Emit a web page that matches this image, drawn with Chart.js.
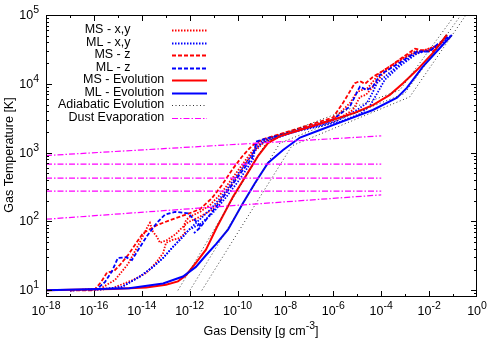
<!DOCTYPE html>
<html lang="en">
<head>
<meta charset="utf-8">
<title>Gas Temperature vs Gas Density</title>
<script src="https://cdn.jsdelivr.net/npm/chart.js@4.4.1/dist/chart.umd.min.js"></script>
<style>
    html, body { margin: 0; padding: 0; background: #ffffff; }
    canvas { display: block; }
</style>
</head>
<body>
<canvas id="grafico" width="500" height="350"></canvas>
<script>
// Valores (log10 da densidade em g cm^-3 e log10 da temperatura em K)

// MS - Evolution
const msEvolRho = [-18, -15.20, -13.82, -12.99, -12.49, -12.15, -11.74, -11.32, -10.86, -10.19, -9.57, -9.15, -8.73, -8.23, -7.39, -6.02, -5.10, -4.35, -3.64, -3.09, -2.51, -1.84, -1.26];
const msEvolT = [1.00, 1.02, 1.04, 1.08, 1.13, 1.22, 1.40, 1.59, 1.92, 2.36, 2.71, 2.95, 3.14, 3.24, 3.33, 3.48, 3.58, 3.69, 3.84, 4.01, 4.20, 4.45, 4.71];

// ML - Evolution
const mlEvolRho = [-18, -14.53, -13.11, -12.28, -11.74, -11.32, -10.90, -10.40, -9.82, -9.27, -8.73, -8.10, -7.39, -6.56, -6.02, -4.35, -3.34, -2.93, -2.26, -1.55, -1.05];
const mlEvolT = [1.00, 1.03, 1.10, 1.20, 1.34, 1.51, 1.67, 1.88, 2.24, 2.56, 2.85, 3.04, 3.22, 3.33, 3.40, 3.62, 3.80, 3.94, 4.25, 4.52, 4.71];

// MS - z
const msZRho = [-17.00, -16.00, -15.70, -15.45, -15.16, -14.91, -14.58, -13.95, -13.41, -12.82, -12.15, -11.57, -11.07, -10.65, -10.23, -9.82, -9.40, -8.98, -8.23, -7.39, -6.02, -5.60, -5.10, -4.89, -4.68, -4.35, -3.64, -3.09, -2.59, -2.18, -1.84, -1.55, -1.26];
const msZT = [1.00, 1.00, 1.12, 1.26, 1.28, 1.37, 1.51, 1.83, 1.94, 2.02, 2.10, 2.18, 2.34, 2.53, 2.75, 2.94, 3.10, 3.19, 3.27, 3.36, 3.51, 3.72, 4.01, 4.04, 4.00, 4.10, 4.25, 4.39, 4.51, 4.48, 4.47, 4.57, 4.71];

// ML - z
const mlZRho = [-17.00, -15.91, -15.54, -15.24, -15.00, -14.66, -14.41, -14.20, -13.78, -13.37, -13.03, -12.61, -12.07, -11.70, -11.53, -11.82, -11.57, -11.15, -10.73, -10.23, -9.77, -9.40, -9.27, -9.23, -8.86, -7.81, -6.02, -5.31, -4.89, -4.60, -4.35, -4.05, -3.22, -2.51, -1.97, -1.67, -1.13];
const mlZT = [1.00, 1.01, 1.12, 1.28, 1.47, 1.48, 1.44, 1.56, 1.79, 1.98, 2.10, 2.14, 2.12, 1.99, 1.92, 1.83, 1.91, 2.10, 2.29, 2.53, 2.75, 2.92, 3.07, 3.16, 3.20, 3.29, 3.48, 3.67, 3.96, 3.91, 3.96, 4.13, 4.31, 4.47, 4.47, 4.57, 4.70];

// MS - x,y (dois perfis)
const msXYaRho = [-17.00, -15.75, -15.24, -14.37, -13.82, -13.41, -13.11, -12.99, -12.74, -12.41, -12.20, -12.24, -12.15, -11.99, -11.57, -11.15, -10.73, -10.32, -9.90, -9.48, -9.15, -8.65, -7.39, -6.02, -5.31, -5.01, -4.81, -4.56, -4.05, -3.22, -2.59, -2.18, -1.55, -1.26];
const msXYaT = [1.00, 1.02, 1.03, 1.15, 1.25, 1.40, 1.54, 1.69, 1.73, 1.76, 1.83, 1.94, 2.02, 2.07, 2.14, 2.24, 2.39, 2.58, 2.78, 2.98, 3.11, 3.22, 3.35, 3.48, 3.72, 3.88, 3.91, 3.94, 4.16, 4.35, 4.47, 4.49, 4.57, 4.71];
const msXYbRho = [-17.00, -15.75, -15.12, -14.58, -14.08, -13.78, -13.66, -13.53, -13.37, -13.24, -12.95, -12.57, -12.41, -12.07, -11.57, -11.07, -10.65, -10.11, -9.65, -9.23, -8.86, -7.81, -5.85, -5.18, -4.89, -4.64, -4.39, -3.97, -3.43, -2.80, -2.18, -1.55, -1.26];
const msXYbT = [1.00, 1.02, 1.15, 1.38, 1.70, 1.91, 1.98, 1.85, 1.78, 1.69, 1.73, 1.82, 1.88, 1.99, 2.07, 2.17, 2.34, 2.60, 2.85, 3.04, 3.16, 3.30, 3.48, 3.62, 3.81, 3.84, 3.94, 4.13, 4.29, 4.42, 4.49, 4.57, 4.71];

// ML - x,y (dois perfis)
const mlXYaRho = [-17.00, -15.75, -14.83, -14.12, -13.53, -13.11, -12.70, -12.28, -12.03, -11.61, -11.15, -10.65, -10.11, -9.65, -9.27, -8.98, -8.23, -7.39, -5.85, -5.01, -4.60, -4.35, -4.18, -3.76, -3.09, -2.51, -1.97, -1.55, -1.13];
const mlXYaT = [1.00, 1.01, 1.05, 1.19, 1.34, 1.47, 1.63, 1.78, 1.88, 2.02, 2.17, 2.37, 2.63, 2.85, 3.04, 3.14, 3.23, 3.33, 3.46, 3.62, 3.72, 3.88, 4.01, 4.13, 4.32, 4.45, 4.49, 4.57, 4.68];
const mlXYbRho = [-17.00, -15.75, -14.83, -14.12, -13.53, -13.11, -12.70, -12.28, -12.03, -11.57, -11.07, -10.53, -9.98, -9.57, -9.36, -9.27, -9.19, -8.73, -7.39, -5.72, -4.89, -4.47, -4.14, -3.85, -3.22, -2.51, -1.97, -1.55, -1.13];
const mlXYbT = [1.00, 1.01, 1.05, 1.19, 1.34, 1.47, 1.63, 1.78, 1.88, 1.96, 2.11, 2.33, 2.58, 2.79, 2.90, 3.04, 3.14, 3.20, 3.32, 3.45, 3.56, 3.68, 3.88, 4.06, 4.26, 4.44, 4.49, 4.57, 4.68];

// Adiabatic Evolution (três curvas)
const adiab1Rho = [-12.49, -8.73, -3.22, -0.92];
const adiab1T = [1.00, 3.19, 3.91, 5.00];
const adiab2Rho = [-11.99, -8.23, -3.02, -0.67];
const adiab2T = [1.00, 3.14, 3.86, 5.00];
const adiab3Rho = [-11.49, -7.73, -2.81, -0.46];
const adiab3T = [1.00, 3.10, 3.81, 5.00];

// Dust Evaporation (cinco linhas entre 1e-18 e 1e-4)
const poeiraRho = [-18, -4];
const poeira1T = [2.958, 3.244];
const poeira2T = [2.833, 2.833];
const poeira3T = [2.629, 2.629];
const poeira4T = [2.440, 2.440];
const poeira5T = [2.033, 2.387];

// Eixos e textos
const xTickExp = [-18, -16, -14, -12, -10, -8, -6, -4, -2, 0];
const yTickExp = [1, 2, 3, 4, 5];
const legendaTextos = ["MS - x,y", "ML - x,y", "MS - z", "ML - z", "MS - Evolution", "ML - Evolution", "Adiabatic Evolution", "Dust Evaporation"];

const FONTE = '"Liberation Sans", Arial, Helvetica, sans-serif';
const TAM = 12.5;     // fonte normal
const TAM_EXP = 10.5; // fonte do expoente

// Estilo de cada entrada da legenda
const estilos = [
    { cor: "#ff0000", largura: 1.8, traco: [1.5, 1.5] },
    { cor: "#0000ff", largura: 1.8, traco: [1.5, 1.5] },
    { cor: "#ff0000", largura: 1.8, traco: [4, 2] },
    { cor: "#0000ff", largura: 1.8, traco: [4, 2] },
    { cor: "#ff0000", largura: 2, traco: [] },
    { cor: "#0000ff", largura: 2, traco: [] },
    { cor: "#333333", largura: 1, traco: [1, 2.5] },
    { cor: "#ff00ff", largura: 1.2, traco: [6, 2, 1.5, 2] }
];

function pontos(rho, temp) {
    return rho.map((r, i) => ({ x: Math.pow(10, r), y: Math.pow(10, temp[i]) }));
}

function serie(estilo, rho, temp) {
    const e = estilos[estilo];
    return {
        label: legendaTextos[estilo],
        data: pontos(rho, temp),
        borderColor: e.cor,
        borderWidth: e.largura,
        borderDash: e.traco,
        showLine: true,
        pointRadius: 0,
        tension: 0,
        fill: false
    };
}

const series = [
    serie(0, msXYaRho, msXYaT),
    serie(0, msXYbRho, msXYbT),
    serie(1, mlXYaRho, mlXYaT),
    serie(1, mlXYbRho, mlXYbT),
    serie(2, msZRho, msZT),
    serie(3, mlZRho, mlZT),
    serie(4, msEvolRho, msEvolT),
    serie(5, mlEvolRho, mlEvolT),
    serie(6, adiab1Rho, adiab1T),
    serie(6, adiab2Rho, adiab2T),
    serie(6, adiab3Rho, adiab3T),
    serie(7, poeiraRho, poeira1T),
    serie(7, poeiraRho, poeira2T),
    serie(7, poeiraRho, poeira3T),
    serie(7, poeiraRho, poeira4T),
    serie(7, poeiraRho, poeira5T)
];
// como no gnuplot, a última série fica por cima
series.forEach((s, i) => { s.order = series.length - i; });

// Escreve "10" com expoente sobrescrito
function potencia(ctx, x, y, exp, alinhar) {
    ctx.font = TAM + "px " + FONTE;
    const wb = ctx.measureText("10").width;
    ctx.font = TAM_EXP + "px " + FONTE;
    const we = ctx.measureText(exp).width;
    const x0 = alinhar === "right" ? x - wb - we : x - (wb + we) / 2;
    ctx.textAlign = "left";
    ctx.textBaseline = "middle";
    ctx.font = TAM + "px " + FONTE;
    ctx.fillText("10", x0, y);
    ctx.font = TAM_EXP + "px " + FONTE;
    ctx.fillText(exp, x0 + wb, y - 5.5);
}

const eixosPlugin = {
    id: "eixos",
    afterDraw(chart) {
        const ctx = chart.ctx;
        const a = chart.chartArea;
        const sx = chart.scales.x;
        const sy = chart.scales.y;
        ctx.save();
        ctx.strokeStyle = "#000";
        ctx.fillStyle = "#000";
        ctx.lineWidth = 1;
        ctx.setLineDash([]);

        // moldura
        ctx.strokeRect(a.left + 0.5, a.top + 0.5, a.right - a.left - 1, a.bottom - a.top - 1);

        // marcas do eixo x (uma por década, maiores nas rotuladas)
        ctx.beginPath();
        for (let e = -17; e <= -1; e++) {
            const px = Math.round(sx.getPixelForValue(Math.pow(10, e))) + 0.5;
            const tam = e % 2 === 0 ? 6 : 3;
            ctx.moveTo(px, a.bottom); ctx.lineTo(px, a.bottom - tam);
            ctx.moveTo(px, a.top); ctx.lineTo(px, a.top + tam);
        }
        // marcas do eixo y
        for (let e = 0; e <= 4; e++) {
            for (let m = 1; m <= 9; m++) {
                const v = m * Math.pow(10, e);
                if (v <= sy.min || v >= sy.max) continue;
                const py = Math.round(sy.getPixelForValue(v)) + 0.5;
                const tam = m === 1 ? 6 : 3;
                ctx.moveTo(a.left, py); ctx.lineTo(a.left + tam, py);
                ctx.moveTo(a.right, py); ctx.lineTo(a.right - tam, py);
            }
        }
        ctx.stroke();

        // rótulos
        xTickExp.forEach((e) => {
            potencia(ctx, sx.getPixelForValue(Math.pow(10, e)), a.bottom + 15, String(e), "center");
        });
        yTickExp.forEach((e) => {
            potencia(ctx, a.left - 7, sy.getPixelForValue(Math.pow(10, e)) + 0.5, String(e), "right");
        });

        // título do eixo y
        ctx.save();
        ctx.translate(10, 155);
        ctx.rotate(-Math.PI / 2);
        ctx.font = TAM + "px " + FONTE;
        ctx.textAlign = "center";
        ctx.textBaseline = "middle";
        ctx.fillText("Gas Temperature [K]", 0, 0);
        ctx.restore();

        // título do eixo x com expoente
        ctx.font = TAM + "px " + FONTE;
        const p1 = "Gas Density [g cm";
        const w1 = ctx.measureText(p1).width;
        const w3 = ctx.measureText("]").width;
        ctx.font = TAM_EXP + "px " + FONTE;
        const w2 = ctx.measureText("-3").width;
        const x0 = 261 - (w1 + w2 + w3) / 2;
        const yt = 332;
        ctx.textAlign = "left";
        ctx.textBaseline = "middle";
        ctx.font = TAM + "px " + FONTE;
        ctx.fillText(p1, x0, yt);
        ctx.font = TAM_EXP + "px " + FONTE;
        ctx.fillText("-3", x0 + w1, yt - 5.5);
        ctx.font = TAM + "px " + FONTE;
        ctx.fillText("]", x0 + w1 + w2, yt);

        // legenda (as quatro primeiras entradas terminam mais à esquerda, como no original)
        legendaTextos.forEach((txt, i) => {
            const yl = 30 + i * 12.5;
            ctx.font = TAM + "px " + FONTE;
            ctx.textAlign = "right";
            ctx.fillStyle = "#000";
            ctx.fillText(txt, i < 4 ? 130.5 : 164.3, yl);
            const e = estilos[i];
            ctx.beginPath();
            ctx.strokeStyle = e.cor;
            ctx.lineWidth = e.largura;
            ctx.setLineDash(e.traco);
            ctx.moveTo(172, Math.round(yl) + 0.5);
            ctx.lineTo(207, Math.round(yl) + 0.5);
            ctx.stroke();
        });
        ctx.restore();
    }
};

new Chart(document.getElementById("grafico"), {
    type: "scatter",
    data: { datasets: series },
    options: {
        responsive: false,
        animation: false,
        devicePixelRatio: 1,
        layout: { padding: { left: 46, right: 23, top: 15, bottom: 53 } },
        plugins: {
            legend: { display: false },
            tooltip: { enabled: false }
        },
        scales: {
            x: { type: "logarithmic", min: 1e-18, max: 1, display: false },
            y: { type: "logarithmic", min: 8, max: 1e5, display: false }
        }
    },
    plugins: [eixosPlugin]
});
</script>
</body>
</html>
